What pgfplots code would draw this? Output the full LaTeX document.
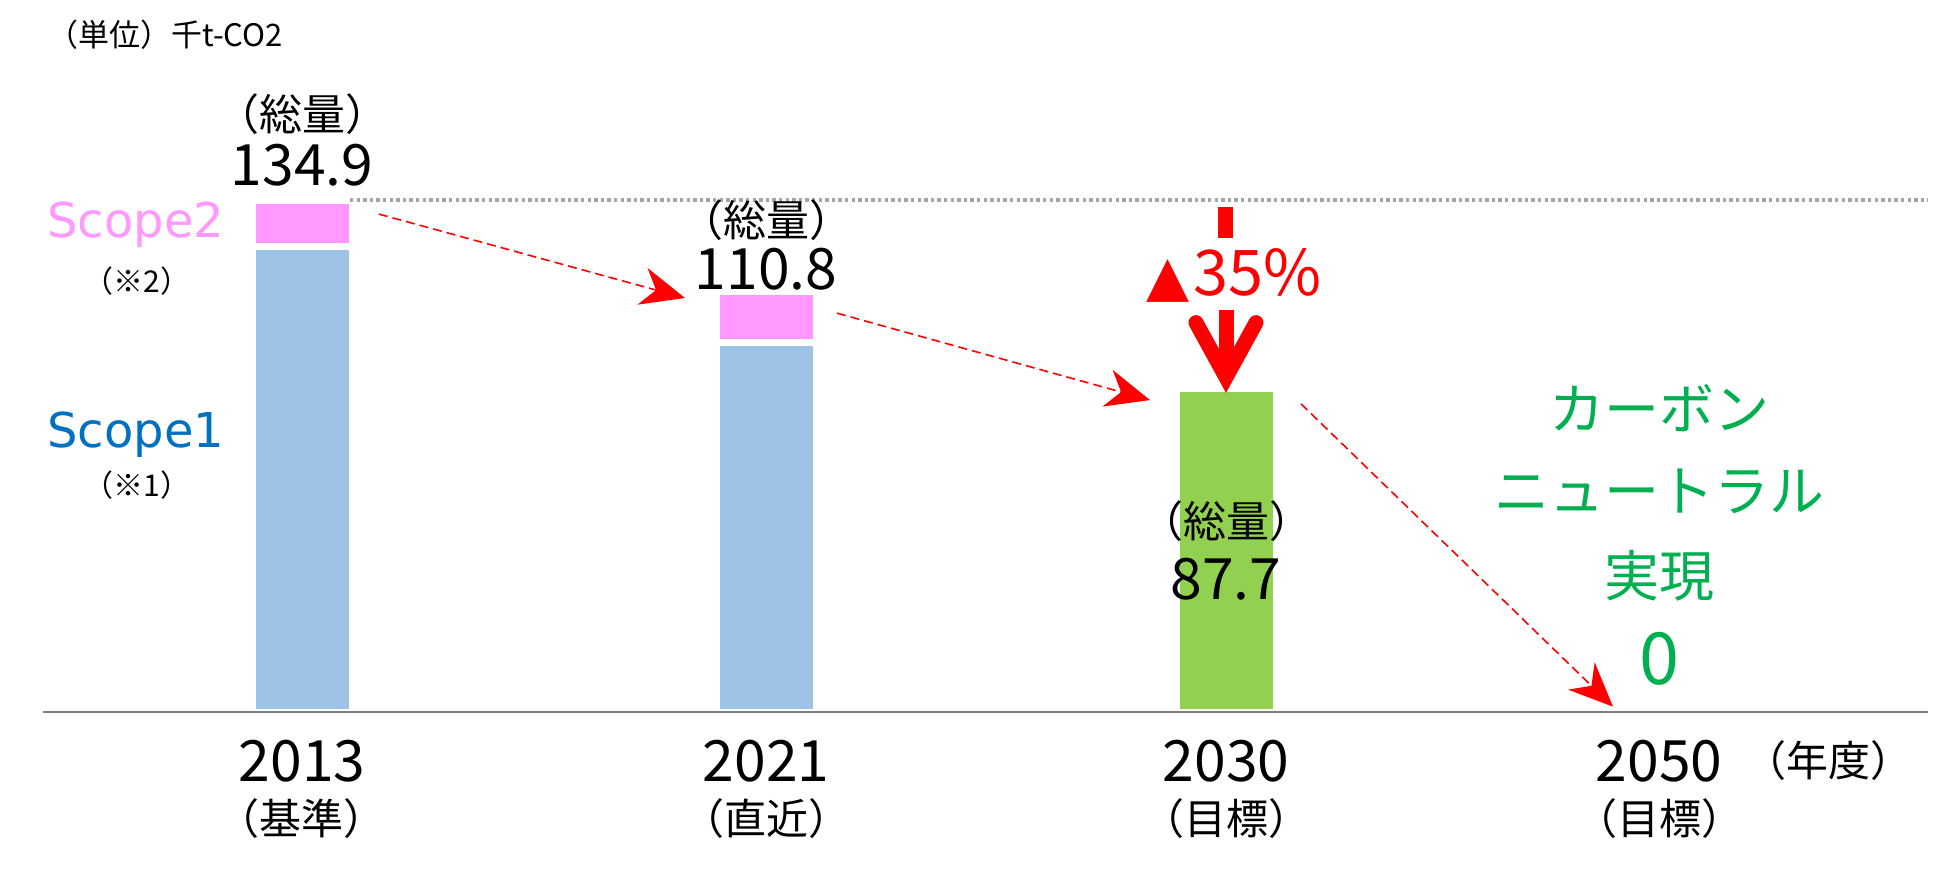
\documentclass[border=0pt]{standalone}
\usepackage{pgfplots}
\pgfplotsset{compat=1.18}
\usetikzlibrary{arrows.meta}
\usepackage{fontspec}
\setmainfont{Noto Sans CJK JP}
\newfontfamily\dejavu{DejaVu Sans}
\definecolor{scopeone}{HTML}{9DC3E6}
\definecolor{scopetwo}{HTML}{FF99FF}
\definecolor{targetgreen}{HTML}{92D050}
\definecolor{cngreen}{HTML}{00B050}
\definecolor{scopeblue}{HTML}{0070C0}
\definecolor{redarr}{HTML}{FF0000}
\definecolor{dotgray}{HTML}{A6A6A6}
\definecolor{basegray}{HTML}{808080}
\begin{document}
\begin{tikzpicture}
\begin{axis}[
  scale only axis, width=942.5pt, height=356pt,
  xmin=43, xmax=1928, ymin=0, ymax=187.62,
  axis x line*=bottom, axis y line=none,
  x axis line style={basegray, line width=1pt},
  ytick=\empty,
  xtick={302,766,1226,1659},
  xticklabels={
    {2013\\{\fontsize{21}{26.5}\selectfont （基準）}},
    {2021\\{\fontsize{21}{26.5}\selectfont （直近）}},
    {2030\\{\fontsize{21}{26.5}\selectfont （目標）}},
    {2050\\{\fontsize{21}{26.5}\selectfont （目標）}}},
  major tick length=0pt,
  xticklabel style={align=center, anchor=north, inner sep=0pt, yshift=-14pt,
    font=\fontsize{28.5}{26.5}\selectfont},
  ybar stacked, bar width=100, reverse stacked plots=false,
  clip=false, axis on top,
]
% Scope1
\addplot[fill=scopeone, draw=white, line width=3.5pt] coordinates {(302,122.7) (766,97.4) (1226,0)};
% Scope2
\addplot[fill=scopetwo, draw=white, line width=3.5pt] coordinates {(302,12.2) (766,13.4) (1226,0)};
% 2030 target total (bar as drawn)
\addplot[fill=targetgreen, draw=white, line width=3.5pt] coordinates {(302,0) (766,0) (1226,85.2)};

% reference dotted line at 2013 level
\draw[dotgray, line width=1.65pt, dash pattern=on 1.65pt off 1.65pt] (axis cs:350,134.9) -- (axis cs:1928,134.9);

% totals
\node[inner sep=1pt, font=\fontsize{21.5}{24}\selectfont] at (axis cs:302,157.6) {（総量）};
\node[inner sep=1pt, font=\fontsize{28.5}{32}\selectfont] at (axis cs:302,144.1) {134.9};
\node[inner sep=1pt, font=\fontsize{21.5}{24}\selectfont] at (axis cs:766,129.6) {（総量）};
\node[inner sep=1pt, font=\fontsize{28.5}{32}\selectfont] at (axis cs:766,116.6) {110.8};
\node[inner sep=1pt, font=\fontsize{21.5}{24}\selectfont] at (axis cs:1226,50.3) {（総量）};
\node[inner sep=1pt, font=\fontsize{28.5}{32}\selectfont] at (axis cs:1226,34.9) {87.7};

% units
\node[anchor=west, inner sep=0pt, font=\fontsize{15.5}{18}\selectfont] at (axis cs:47,178.4) {（単位）千t-CO2};

% scope labels
\node[anchor=west, inner sep=0pt, text=scopetwo, font=\dejavu\fontsize{24}{28}\selectfont] at (axis cs:47,128.3) {Scope2};
\node[font=\fontsize{15}{18}\selectfont] at (axis cs:137,113.6) {（※2）};
\node[anchor=west, inner sep=0pt, text=scopeblue, font=\dejavu\fontsize{24}{28}\selectfont] at (axis cs:47,73.0) {Scope1};
\node[font=\fontsize{15}{18}\selectfont] at (axis cs:137,59.8) {（※1）};

% year unit
\node[font=\fontsize{21}{24}\selectfont] at (axis cs:1828,-12.9) {（年度）};

% carbon neutral text
\node[text=cngreen, font=\fontsize{27.5}{30}\selectfont] at (axis cs:1659,80.1) {カーボン};
\node[text=cngreen, font=\fontsize{27.5}{30}\selectfont] at (axis cs:1659,58.2) {ニュートラル};
\node[text=cngreen, font=\fontsize{27.5}{30}\selectfont] at (axis cs:1659,35.8) {実現};
\node[text=cngreen, font=\fontsize{36}{40}\selectfont] at (axis cs:1659,14.0) {0};

% dashed trend arrows
\draw[redarr, line width=0.8pt, dash pattern=on 4.5pt off 2.5pt,
  -{Stealth[length=22pt, width=19pt, inset=7pt]}]
  (axis cs:379,131.2) -- (axis cs:685,109.1);
\draw[redarr, line width=0.8pt, dash pattern=on 4.5pt off 2.5pt,
  -{Stealth[length=22pt, width=19pt, inset=7pt]}]
  (axis cs:837,105.1) -- (axis cs:1150,82.2);
\draw[redarr, line width=0.8pt, dash pattern=on 4.5pt off 2.5pt,
  -{Stealth[length=22pt, width=19pt, inset=7pt]}]
  (axis cs:1301,81.2) -- (axis cs:1613,1.4);

% -35% arrow
\draw[redarr, line width=7.5pt] (axis cs:1225,133.1) -- (axis cs:1225,124.9);
\draw[redarr, line width=7.5pt] (axis cs:1226,105.9) -- (axis cs:1226,90);
\draw[redarr, line width=7.5pt, line cap=round, line join=miter]
  (axis cs:1196,102.6) -- (axis cs:1226,88.2) -- (axis cs:1256,102.6);
\node[text=redarr, inner sep=0pt] at (axis cs:1234,115.0)
  {{\dejavu\fontsize{28}{30}\selectfont ▲}\hspace{2pt}{\fontsize{31.5}{34}\selectfont 35\%}};

% fix picture bounds
\path (axis cs:0,-42.42) rectangle (axis cs:1950,187.62);
\end{axis}
\end{tikzpicture}
\end{document}
